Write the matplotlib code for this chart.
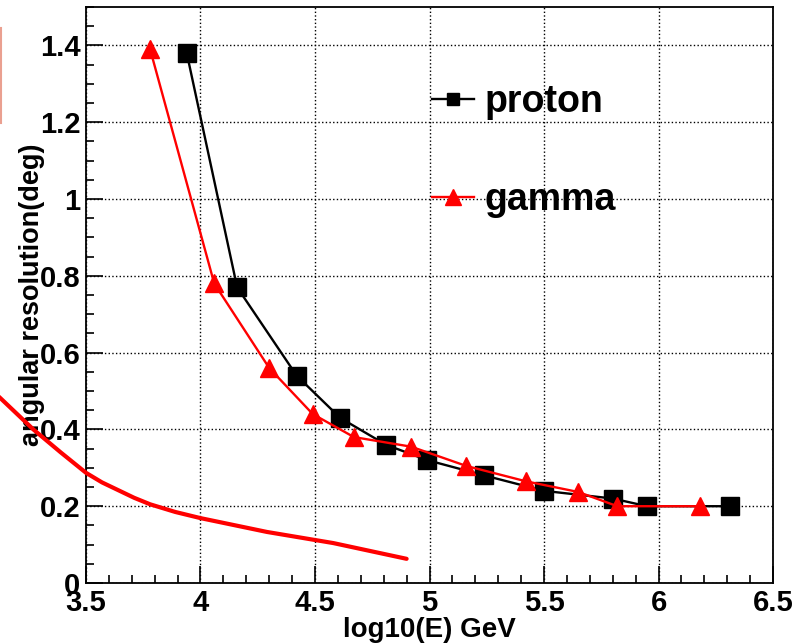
import numpy as np
import matplotlib.pyplot as plt
from matplotlib.ticker import MultipleLocator
from matplotlib.lines import Line2D

# proton (black squares)
protonE = [3.94, 4.16, 4.42, 4.61, 4.81, 4.99, 5.24, 5.50, 5.80, 5.95, 6.31]
protonRes = [1.38, 0.77, 0.54, 0.43, 0.36, 0.32, 0.28, 0.24, 0.22, 0.20, 0.20]

# gamma (red triangles)
gammaE = [3.78, 4.06, 4.30, 4.49, 4.67, 4.92, 5.16, 5.42, 5.65, 5.82, 6.18]
gammaRes = [1.39, 0.78, 0.56, 0.44, 0.38, 0.355, 0.305, 0.265, 0.237, 0.20, 0.20]

# hand-drawn red annotation curve
noteE = [3.12, 3.27, 3.39, 3.50, 3.57, 3.64, 3.71, 3.78, 3.89, 4.00, 4.29, 4.58, 4.90]
noteRes = [0.485, 0.40, 0.34, 0.287, 0.262, 0.242, 0.222, 0.205, 0.185, 0.169, 0.133, 0.104, 0.063]

plt.rcParams['font.family'] = ['Liberation Sans', 'DejaVu Sans']
plt.rcParams['font.weight'] = 'bold'

fig = plt.figure(figsize=(7.94, 6.44), dpi=100)
ax = fig.add_axes([0.1083, 0.0947, 0.8653, 0.8944])

ax.plot(protonE, protonRes, color='black', lw=1.7, marker='s', ms=13,
        label='proton', zorder=4)
ax.plot(gammaE, gammaRes, color='red', lw=1.7, marker='^', ms=13,
        label='gamma', zorder=5)
ax.plot(noteE, noteRes, color='red', lw=3, clip_on=False, zorder=6,
        solid_capstyle='round', solid_joinstyle='round')

ax.set_xlim(3.5, 6.5)
ax.set_ylim(0, 1.5)
ax.xaxis.set_minor_locator(MultipleLocator(0.1))
ax.yaxis.set_minor_locator(MultipleLocator(0.05))
ax.set_xticks([3.5, 4, 4.5, 5, 5.5, 6, 6.5])
ax.set_xticklabels(['3.5', '4', '4.5', '5', '5.5', '6', '6.5'])
ax.set_yticks([0, 0.2, 0.4, 0.6, 0.8, 1.0, 1.2, 1.4])
ax.set_yticklabels(['0', '0.2', '0.4', '0.6', '0.8', '1', '1.2', '1.4'])

ax.tick_params(which='both', direction='in', top=False, right=False,
               labelsize=21, width=1.2)
ax.tick_params(which='major', length=12, pad=4)
ax.tick_params(which='minor', length=6)
ax.grid(True, which='major', color='black', linestyle=':', lw=1)
for s in ax.spines.values():
    s.set_linewidth(1.3)

ax.set_xlabel('log10(E) GeV', fontsize=20, fontweight='bold', labelpad=0)
ax.set_ylabel('angular resolution(deg)', fontsize=19.5, fontweight='bold',
              labelpad=-4)

handles = [Line2D([], [], color='black', lw=1.7, marker='s', ms=9),
           Line2D([], [], color='red', lw=1.7, marker='^', ms=11)]
ax.legend(handles, ['proton', 'gamma'], loc='upper left',
          bbox_to_anchor=(0.504, 0.866), frameon=False, fontsize=27,
          handlelength=1.1, handletextpad=0.3, labelspacing=1.65,
          borderpad=0, borderaxespad=0)

# faded red mark at the left edge
fig.add_artist(Line2D([0.001, 0.001], [1 - 28 / 644, 1 - 123 / 644],
                      color='#eaa090', lw=1.5))

fig.savefig('out.png', dpi=100)
